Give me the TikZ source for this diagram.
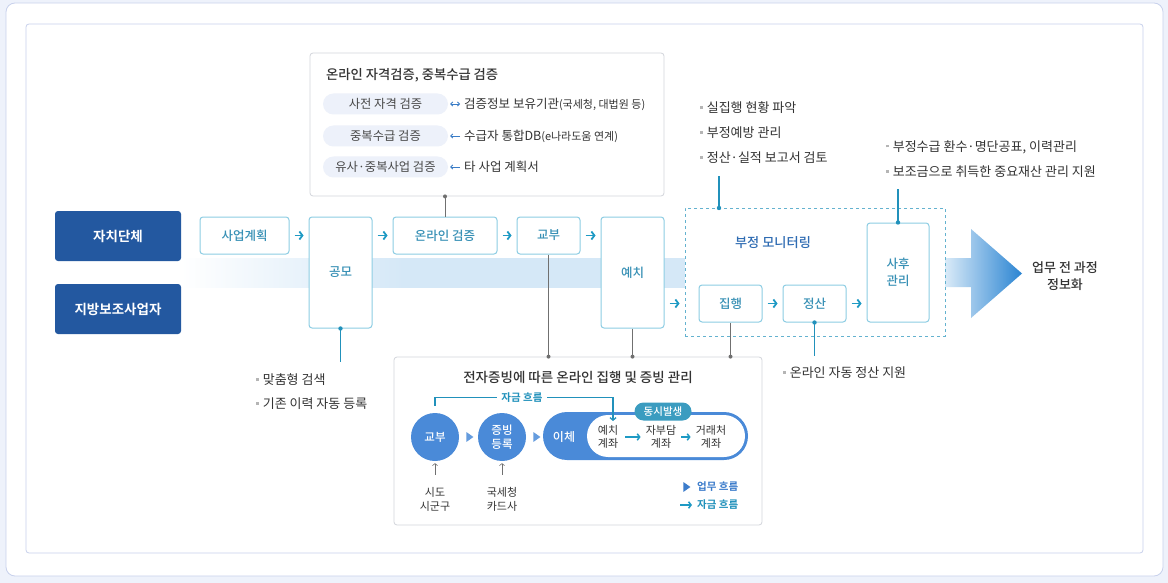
\documentclass[tikz,border=0pt]{standalone}
\usepackage{fontspec}
\setmainfont{Noto Sans CJK KR}[BoldFont={Noto Sans CJK KR Bold}]
\newfontfamily\medfont{Noto Sans CJK KR Medium}
\usetikzlibrary{arrows.meta,shapes.geometric}
\definecolor{pagebg}{HTML}{EEF2FB}
\definecolor{framecol}{HTML}{C8D1EC}
\definecolor{navy}{HTML}{2358A0}
\definecolor{bandblue}{HTML}{D5E8F7}
\definecolor{boxline}{HTML}{8DCDE3}
\definecolor{boxtext}{HTML}{3790B5}
\definecolor{chevteal}{HTML}{1E9AC4}
\definecolor{linegray}{HTML}{707070}
\definecolor{lineteal}{HTML}{2191BB}
\definecolor{monblue}{HTML}{2F6CB3}
\definecolor{pillfill}{HTML}{EDF1FA}
\definecolor{infoblue}{HTML}{3A7CC6}
\definecolor{discblue}{HTML}{4A8AD8}
\definecolor{tiptone}{HTML}{2A84D2}
\definecolor{tagteal}{HTML}{3B9CC0}
\definecolor{legblue}{HTML}{3C7CCB}
\definecolor{txtdark}{HTML}{333333}
\definecolor{dotgray}{HTML}{B5B5B5}
\definecolor{topline}{HTML}{D2D5DB}
\pgfdeclarehorizontalshading{bandfade}{100bp}{color(0bp)=(white); color(25bp)=(white); color(47bp)=(bandblue); color(100bp)=(bandblue)}
\newcommand\notedot{\textcolor{dotgray}{\rule[0.3em]{2.6pt}{2.6pt}}\hspace{4pt}}
\tikzset{
  actorbox/.style={fill=navy,rounded corners=3pt,text=white,font=\bfseries\fontsize{13.5}{15}\selectfont,minimum width=126pt,minimum height=50pt,inner sep=0pt},
  procbox/.style={draw=boxline,fill=white,line width=1pt,rounded corners=3pt,text=boxtext,font=\medfont\fontsize{12.5}{17}\selectfont,align=center,inner sep=0pt},
  chevarr/.style={chevteal,line width=1.8pt,-{Straight Barb[length=3pt,width=8pt]}},
  grayline/.style={linegray,line width=0.8pt},
  tealline/.style={lineteal,line width=1.2pt},
  notetext/.style={anchor=west,inner sep=0pt,text=txtdark,font=\fontsize{13}{15}\selectfont},
  pillbox/.style={fill=pillfill,rounded corners=10.5pt,minimum width=125pt,minimum height=21pt,inner sep=0pt,text=txtdark!90,font=\fontsize{12.3}{14}\selectfont},
  srctext/.style={anchor=west,inner sep=0pt,text=txtdark,font=\fontsize{12.5}{14}\selectfont},
  flowdisc/.style={circle,fill=discblue,minimum size=48pt,inner sep=0pt,text=white,align=center,font=\medfont\fontsize{11.5}{13.5}\selectfont},
  flowtri/.style={isosceles triangle,isosceles triangle apex angle=70,fill=discblue!85,inner sep=0pt,minimum size=7pt},
  accttext/.style={inner sep=0pt,align=center,text=txtdark,font=\fontsize{11}{12.5}\selectfont}
}
\begin{document}
\begin{tikzpicture}[x=1pt,y=-1pt]
\useasboundingbox (0,0) rectangle (1168,583);
\fill[pagebg] (0,0) rectangle (1168,583);
\draw[framecol,fill=white,rounded corners=9pt,line width=0.8pt] (6,3) rectangle (1163,576);
\draw[framecol,rounded corners=3pt,line width=0.8pt] (26,24) rectangle (1143,553);
% band and big arrow
\shade[shading=bandfade] (181,258) rectangle (686,287);
\shade[left color=bandblue!90,right color=tiptone] (945,258)--(971,258)--(971,229)--(1022,273.5)--(971,318)--(971,287)--(945,287)--cycle;
\node[inner sep=0pt,align=center,text=txtdark,font=\medfont\fontsize{13}{17}\selectfont] (result) at (1065,276) {업무 전 과정\\정보화};
% actors
\node[actorbox] (city) at (118,236) {자치단체};
\node[actorbox] (biz) at (118,309) {지방보조사업자};
% monitoring frame
\node[draw=lineteal!70,dashed,fill=white,line width=0.8pt,minimum width=260pt,minimum height=128pt,inner sep=0pt] (monitor) at (815,272) {};
\node[text=monblue,font=\medfont\fontsize{13.2}{15}\selectfont] (montitle) at (773,243) {부정 모니터링};
% process boxes
\node[procbox,minimum width=89pt,minimum height=37pt] (plan) at (244.5,235.5) {사업계획};
\node[procbox,minimum width=63pt,minimum height=111pt] (gongmo) at (340.5,272.5) {공모};
\node[procbox,minimum width=104pt,minimum height=37pt] (verify) at (445,235.5) {온라인 검증};
\node[procbox,minimum width=63pt,minimum height=37pt] (grant) at (548.5,235.5) {교부};
\node[procbox,minimum width=63pt,minimum height=111pt] (deposit) at (632.5,272.5) {예치};
\node[procbox,minimum width=63pt,minimum height=37pt] (exec) at (730.5,303.5) {집행};
\node[procbox,minimum width=63pt,minimum height=37pt] (settle) at (814.5,303.5) {정산};
\node[procbox,minimum width=62pt,minimum height=99pt] (after) at (898,272.5) {사후\\관리};
\foreach \a/\b in {plan/gongmo,gongmo/verify,verify/grant,grant/deposit}
  \draw[chevarr] ([xshift=5pt]\a.east |- plan.east) -- ([xshift=-5pt]\b.west |- plan.east);
\foreach \a in {deposit,exec,settle}
  \draw[chevarr] ([xshift=5pt]\a.east |- exec.east) -- ([xshift=15pt]\a.east |- exec.east);
% top box
\node[draw=topline,fill=white,rounded corners=3pt,line width=0.8pt,minimum width=354pt,minimum height=143pt,inner sep=0pt] (topbox) at (487,124.5) {};
\node[anchor=west,inner sep=0pt,text=txtdark,font=\medfont\fontsize{13.3}{15}\selectfont] (toptitle) at (326,75) {온라인 자격검증, 중복수급 검증};
\node[pillbox] (p1) at (385.5,104) {사전 자격 검증};
\node[pillbox] (p2) at (385.5,136) {중복수급 검증};
\node[pillbox] (p3) at (385.5,167) {유사·중복사업 검증};
\node[srctext] (s1) at (464,104) {검증정보 보유기관{\fontsize{11}{12}\selectfont(국세청, 대법원 등)}};
\node[srctext] (s2) at (464,136) {수급자 통합DB{\fontsize{11}{12}\selectfont(e나라도움 연계)}};
\node[srctext] (s3) at (464,167) {타 사업 계획서};
\draw[infoblue,line width=0.8pt,{Straight Barb[length=2pt,width=4pt]}-{Straight Barb[length=2pt,width=4pt]}] ([xshift=2pt]p1.east) -- ([xshift=-4pt]s1.west);
\draw[infoblue,line width=0.8pt,-{Straight Barb[length=2pt,width=4pt]}] ([xshift=-4pt]s2.west) -- ([xshift=2pt]p2.east);
\draw[infoblue,line width=0.8pt,-{Straight Barb[length=2pt,width=4pt]}] ([xshift=-4pt]s3.west) -- ([xshift=2pt]p3.east);
% notes
\node[notetext] (n1) at (700,108) {\notedot 실집행 현황 파악};
\node[notetext] (n2) at (700,133) {\notedot 부정예방 관리};
\node[notetext] (n3) at (700,158) {\notedot 정산·실적 보고서 검토};
\node[notetext] (n4) at (886,147) {\notedot 부정수급 환수·명단공표, 이력관리};
\node[notetext] (n5) at (886,172) {\notedot 보조금으로 취득한 중요재산 관리 지원};
\node[notetext] (n6) at (256,380) {\notedot 맞춤형 검색};
\node[notetext] (n7) at (256,404) {\notedot 기존 이력 자동 등록};
\node[notetext] (n8) at (783,373) {\notedot 온라인 자동 정산 지원};
% bottom box
\node[draw=topline,fill=white,rounded corners=3pt,line width=0.8pt,minimum width=368pt,minimum height=168pt,inner sep=0pt] (botbox) at (578,441) {};
\node[text=txtdark,font=\medfont\fontsize{13.5}{15}\selectfont] (bottitle) at (578,377) {전자증빙에 따른 온라인 집행 및 증빙 관리};
% connectors
\coordinate (gtail) at (340.5,362);
\coordinate (stail) at (814.5,356);
\coordinate (monpin) at (719,208);
\coordinate (montail) at (719,176);
\coordinate (aftertail) at (898,189);
\draw[grayline] (verify.north) -- (verify.north |- topbox.south);
\fill[linegray] (verify.north |- topbox.south) circle (2pt);
\foreach \b in {grant,deposit,exec}{
  \draw[grayline] (\b.south) -- (\b.south |- botbox.north);
  \fill[linegray] (\b.south |- botbox.north) circle (2pt);}
\draw[tealline] (gongmo.south) -- (gtail);
\fill[lineteal] (gongmo.south) circle (2.2pt);
\draw[tealline] (settle.south) -- (stail);
\fill[lineteal] (settle.south) circle (2.2pt);
\draw[tealline] (monpin) -- (montail);
\fill[lineteal] (monpin) circle (2.2pt);
\draw[tealline] (after.north) -- (aftertail);
\fill[lineteal] (after.north) circle (2.2pt);
% e-evidence flow
\node[flowdisc] (c1) at (435,437) {교부};
\node[flowdisc] (c2) at (502,437) {증빙\\등록};
\node[flowtri] (t1) at (469,437) {};
\node[flowtri] (t2) at (536,437) {};
\node[fill=discblue,rounded corners=24pt,minimum width=205pt,minimum height=48pt,inner sep=0pt] (capsule) at (645.5,436) {};
\node[fill=white,rounded corners=21pt,minimum width=158pt,minimum height=42pt,inner sep=0pt] (capin) at (666,436) {};
\node[text=white,font=\medfont\fontsize{12}{13}\selectfont] (transfer) at (564,437) {이체};
\node[accttext] (a1) at (608,437) {예치\\계좌};
\node[accttext] (a2) at (661,437) {자부담\\계좌};
\node[accttext] (a3) at (711,437) {거래처\\계좌};
\draw[chevteal,line width=1.5pt,-{Straight Barb[length=2.5pt,width=6.5pt]}] ([xshift=7pt]a1.east) -- ([xshift=-5pt]a2.west);
\draw[chevteal,line width=1.5pt,-{Straight Barb[length=2.5pt,width=6.5pt]}] ([xshift=5pt]a2.east) -- ([xshift=-5pt]a3.west);
\node[fill=tagteal,rounded corners=9pt,minimum width=57pt,minimum height=18pt,inner sep=0pt,text=white,font=\medfont\fontsize{10.5}{12}\selectfont] (tag) at (663,411.5) {동시발생};
\coordinate (mfall) at (613,421);
\draw[lineteal,line width=1.3pt,-{Straight Barb[length=2.5pt,width=6pt]}] ([yshift=7pt]c1.north) -- ++(0,-8) -| (mfall);
\node[fill=white,inner xsep=4pt,inner ysep=1pt,text=lineteal,font=\bfseries\fontsize{10.5}{12}\selectfont] (mlabel) at (522,398) {자금 흐름};
\node[inner sep=0pt,align=center,text=txtdark,font=\fontsize{11}{14}\selectfont] (org1) at (435,499) {시도\\시군구};
\node[inner sep=0pt,align=center,text=txtdark,font=\fontsize{11}{14}\selectfont] (org2) at (502,499) {국세청\\카드사};
\draw[linegray,line width=0.6pt,-{Straight Barb[length=2pt,width=5pt]}] ([yshift=12pt]org1.north) -- ([yshift=-2pt]c1.south);
\draw[linegray,line width=0.6pt,-{Straight Barb[length=2pt,width=5pt]}] ([yshift=12pt]org2.north) -- ([yshift=-2pt]c2.south);
% legend
\node[anchor=west,inner sep=0pt,text=legblue,font=\bfseries\fontsize{10.5}{12}\selectfont] (lg1) at (697,487) {업무 흐름};
\node[flowtri,fill=legblue] (lgtri) at (686,487) {};
\node[anchor=west,inner sep=0pt,text=lineteal,font=\bfseries\fontsize{10.5}{12}\selectfont] (lg2) at (697,505) {자금 흐름};
\draw[chevteal,line width=1.5pt,-{Straight Barb[length=2.5pt,width=6.5pt]}] ([xshift=-17pt]lg2.west) -- ([xshift=-5pt]lg2.west);
\end{tikzpicture}
\end{document}
